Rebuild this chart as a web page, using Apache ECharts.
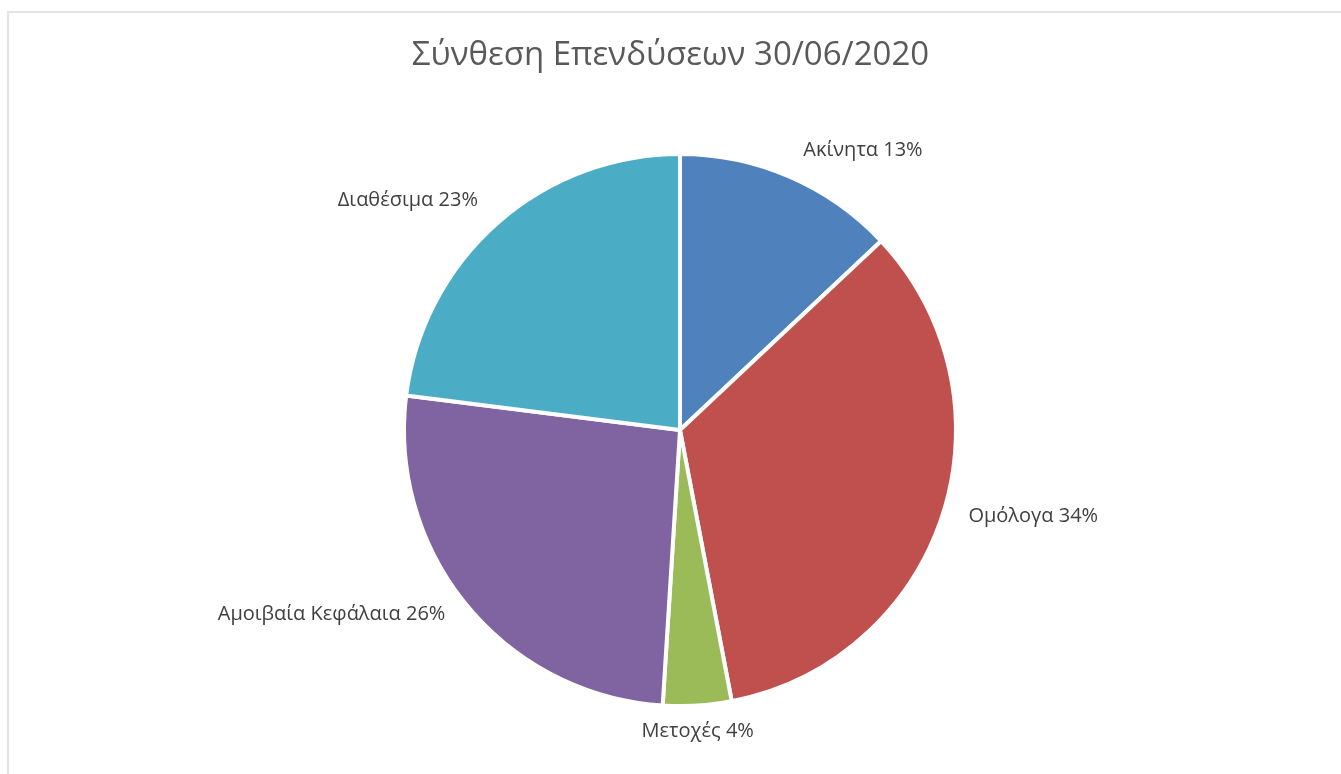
<!DOCTYPE html>
<html>
<head>
<meta charset="utf-8">
<script src="https://cdn.jsdelivr.net/npm/echarts@6/dist/echarts.min.js"></script>
<style>
  html, body { margin: 0; padding: 0; background: #fff; }
  #frame { position: absolute; left: 7px; top: 11px; right: -10px; bottom: -10px; border-top: 2px solid #e4e4e4; border-left: 2px solid #e4e4e4; }
  #main { position: absolute; left: 0; top: 0; width: 1341px; height: 774px; }
</style>
</head>
<body>
<div id="frame"></div>
<div id="main"></div>
<script>
// κατηγορίες και ποσοστά
var categories = ['Ακίνητα', 'Ομόλογα', 'Μετοχές', 'Αμοιβαία Κεφάλαια', 'Διαθέσιμα'];
var values = [13, 34, 4, 26, 23];
var colors = ['#4F81BD', '#C0504D', '#9BBB59', '#8064A2', '#4BACC6'];

var cx = 680, cy = 430;
var myChart = echarts.init(document.getElementById('main'));
var option = {
  animation: false,
  color: colors,
  title: {
    text: 'Σύνθεση Επενδύσεων 30/06/2020',
    left: 'center',
    top: 34,
    textStyle: {
      fontFamily: 'Open Sans',
      fontSize: 33,
      fontWeight: 'normal',
      color: '#595959'
    }
  },
  series: [{
    type: 'pie',
    center: [cx, cy],
    radius: 276,
    startAngle: 90,
    clockwise: true,
    itemStyle: {
      borderColor: '#fff',
      borderWidth: 4
    },
    label: {
      show: true,
      position: 'outside',
      formatter: '{b} {c}%',
      fontFamily: 'Open Sans',
      fontSize: 20,
      color: '#404040'
    },
    labelLine: { show: false, length: 22, length2: 0 },
    labelLayout: function (p) {
      var r = p.labelRect;
      // ετικέτα κάτω από μικρή φέτα στο κέντρο
      if (r.y > cy && Math.abs(r.x - cx) < 80) {
        return { x: r.x - 6, y: r.y + r.height / 2 + 4, align: 'center' };
      }
      return { dy: -6 };
    },
    data: categories.map(function (name, i) {
      return { name: name, value: values[i] }
    })
  }]
};
myChart.setOption(option);
</script>
</body>
</html>
